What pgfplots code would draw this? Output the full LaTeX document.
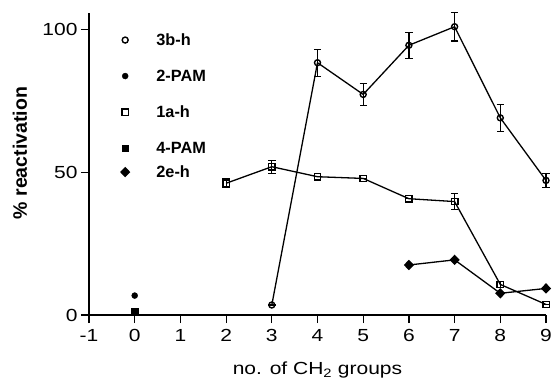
\documentclass[border=0pt]{standalone}
\usepackage{fontspec}
\setmainfont{Liberation Sans}
\newfontfamily\widefont{Liberation Sans}[FakeStretch=1.2]
\usepackage{pgfplots}
\pgfplotsset{compat=1.18}
\begin{document}
\begin{tikzpicture}
\begin{axis}[
  scale only axis, width=457pt, height=302pt,
  xmin=-1, xmax=9, ymin=0, ymax=105.7,
  axis lines=left, axis line style={-, line width=1.3pt},
  xtick={-1,0,1,2,3,4,5,6,7,8,9}, ytick={0,50,100},
  tick align=outside, major tick length=8pt,
  tick style={line width=1.2pt, black},
  clip=false,
  /pgf/number format/assume math mode=true,
  ticklabel style={font=\widefont\fontsize{17.5}{20}\selectfont},
  xticklabel style={yshift=-3pt},
  xlabel={no. of CH\textsubscript{2} groups},
  xlabel style={at={(axis description cs:0.5,-0.197)}, anchor=base, font=\widefont\fontsize{17.5}{20}\selectfont},
  ylabel={\% reactivation},
  ylabel style={at={(axis description cs:-0.151,0.536)}, anchor=center, font=\fontsize{19.5}{22}\selectfont\bfseries},
  legend cell align=left,
  legend image code/.code={\draw[#1,only marks] plot coordinates {(0pt,0pt)};},
  legend style={at={(axis description cs:0.070,0.970)}, anchor=north west, draw=none, fill=none,
    inner sep=0pt, outer sep=0pt, row sep=0pt, column sep=27pt,
    font=\fontsize{16.3}{19}\selectfont\bfseries, nodes={inner sep=0pt, outer sep=0pt}},
]
% 3b-h
\addplot[black, line width=1.3pt, mark=o, mark size=3pt, mark options={solid, line width=1.4pt, fill=white},
  error bars/.cd, y dir=both, y explicit, error bar style={line width=1.2pt},
  error mark options={rotate=90, mark size=3.7pt, line width=1.2pt}]
coordinates {
 (3,3.5) +- (0,0)
 (4,88.3) +- (0,4.7)
 (5,77.2) +- (0,3.9)
 (6,94.4) +- (0,4.6)
 (7,100.9) +- (0,5.0)
 (8,69.0) +- (0,4.7)
 (9,47.1) +- (0,2.5)
};
\addlegendentry[text height=23.9pt, text depth=12.1pt]{3b-h}
% 2-PAM
\addplot[black, only marks, mark=*, mark size=3pt] coordinates {(0,6.8)};
\addlegendentry[text height=23.9pt, text depth=12.1pt]{2-PAM}
% 1a-h
\addplot[black, line width=1.3pt, mark=square, mark size=3.2pt, mark options={solid, line width=1.4pt, fill=white},
  error bars/.cd, y dir=both, y explicit, error bar style={line width=1.2pt},
  error mark options={rotate=90, mark size=3.7pt, line width=1.2pt}]
coordinates {
 (2,46.1) +- (0,1.6)
 (3,51.9) +- (0,2.3)
 (4,48.4) +- (0,0)
 (5,47.8) +- (0,0)
 (6,40.7) +- (0,0)
 (7,39.7) +- (0,2.7)
 (8,10.7) +- (0,1.0)
 (9,3.7) +- (0,0)
};
\addlegendentry[text height=23.9pt, text depth=12.1pt]{1a-h}
% 4-PAM
\addplot[black, only marks, mark=square*, mark size=3.2pt] coordinates {(0,1.2)};
\addlegendentry[text height=23.9pt, text depth=12.1pt]{4-PAM}
% 2e-h
\addplot[black, line width=1.3pt, mark=diamond*, mark size=4.3pt, mark options={solid, xscale=1.3}]
coordinates {(6,17.5) (7,19.3) (8,7.6) (9,9.3)};
\addlegendentry[text height=11.9pt, text depth=0.1pt]{2e-h}
\end{axis}
\pgfresetboundingbox
\path (-89pt,-66pt) rectangle (468pt,315pt);
\end{tikzpicture}
\end{document}
